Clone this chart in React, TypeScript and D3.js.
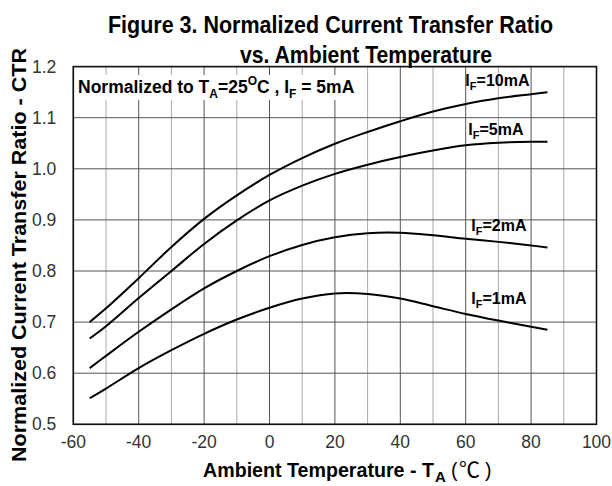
import React from 'react';
import * as d3 from 'd3';

const temps = [-55, -50, -40, -30, -20, -10, 0, 10, 20, 30, 40, 50, 60, 70, 80, 85];
const ctr10mA = [0.7, 0.727, 0.786, 0.847, 0.902, 0.948, 0.988, 1.021, 1.049, 1.072, 1.093, 1.112, 1.127, 1.138, 1.146, 1.15];
const ctr5mA = [0.668, 0.692, 0.747, 0.8, 0.853, 0.899, 0.938, 0.967, 0.99, 1.008, 1.023, 1.036, 1.046, 1.051, 1.053, 1.053];
const ctr2mA = [0.61, 0.634, 0.681, 0.725, 0.766, 0.8, 0.829, 0.851, 0.866, 0.874, 0.875, 0.87, 0.863, 0.857, 0.85, 0.846];
const ctr1mA = [0.551, 0.57, 0.61, 0.645, 0.677, 0.705, 0.728, 0.746, 0.756, 0.755, 0.746, 0.731, 0.716, 0.703, 0.691, 0.685];

const seriesNames = ['10mA', '5mA', '2mA', '1mA'];
const seriesValues = [ctr10mA, ctr5mA, ctr2mA, ctr1mA];
// where each curve label sits, in data units (temperature, ctr)
const labelTemps = [59.9, 60.8, 61.7, 61.7];
const labelCtrs = [1.162, 1.066, 0.878, 0.735];

const xTicks = [-60, -40, -20, 0, 20, 40, 60, 80, 100];
const xMinor = [-50, -30, -10, 10, 30, 50, 70, 90];
const yTicks = [0.5, 0.6, 0.7, 0.8, 0.9, 1.0, 1.1, 1.2];

const width = 612;
const height = 486;
const margins = { l: 73.3, t: 66.6, r: 15.5, b: 61.7 };

const App = () => {
  const x = d3.scaleLinear().domain([-60, 100]).range([margins.l, width - margins.r]);
  const y = d3.scaleLinear().domain([0.5, 1.2]).range([height - margins.b, margins.t]);

  const line = d3
    .line<number>()
    .x((d, i) => x(temps[i]))
    .y(d => y(d))
    .curve(d3.curveCatmullRom.alpha(0.5));

  const font = 'Arial, "Liberation Sans", sans-serif';

  return (
    <svg
      width={width}
      height={height}
      style={{ position: 'absolute', left: 0, top: 0, background: '#fff' }}
      fontFamily={font}
    >
      <text x={108} y={33} fontWeight="bold" fontSize={24} textLength={445} lengthAdjust="spacingAndGlyphs">
        Figure 3. Normalized Current Transfer Ratio
      </text>
      <text x={240} y={63} fontWeight="bold" fontSize={24} textLength={252} lengthAdjust="spacingAndGlyphs">
        vs. Ambient Temperature
      </text>

      {xMinor.map(t => (
        <line key={'xm' + t} x1={x(t)} x2={x(t)} y1={y(0.5)} y2={y(1.2)} stroke="#aaa" strokeWidth={1} />
      ))}
      {xTicks.map(t => (
        <line key={'xg' + t} x1={x(t)} x2={x(t)} y1={y(0.5)} y2={y(1.2)} stroke="#555" strokeWidth={1} />
      ))}
      {yTicks.map(v => (
        <line key={'yg' + v} x1={x(-60)} x2={x(100)} y1={y(v)} y2={y(v)} stroke="#555" strokeWidth={1} />
      ))}

      {seriesValues.map((vals, i) => (
        <path key={seriesNames[i]} d={line(vals) || ''} fill="none" stroke="#000" strokeWidth={2} />
      ))}

      {seriesNames.map((name, i) => (
        <text key={'lb' + name} x={x(labelTemps[i])} y={y(labelCtrs[i])} fontSize={16} fontWeight="bold">
          I
          <tspan fontSize={11} dy={4}>F</tspan>
          <tspan dy={-4}>={name}</tspan>
        </text>
      ))}

      <rect x={x(-60) + 1} y={75} width={286} height={25} fill="#fff" />
      <text x={78} y={93} fontSize={17.5} fontWeight="bold">
        Normalized to T
        <tspan fontSize={12} dy={5}>A</tspan>
        <tspan dy={-5}>=25</tspan>
        <tspan fontSize={12} dy={-8}>O</tspan>
        <tspan dy={8}>C , I</tspan>
        <tspan fontSize={12} dy={5}>F</tspan>
        <tspan dy={-5}> = 5mA</tspan>
      </text>

      <rect
        x={x(-60)}
        y={y(1.2)}
        width={x(100) - x(-60)}
        height={y(0.5) - y(1.2)}
        fill="none"
        stroke="#111"
        strokeWidth={1.6}
      />

      {xTicks.map(t => (
        <text key={'xt' + t} x={x(t)} y={y(0.5) + 24} textAnchor="middle" fontSize={17.5} fill="#333">
          {t}
        </text>
      ))}
      {yTicks.map(v => (
        <text key={'yt' + v} x={x(-60) - 17} y={y(v) + 6} textAnchor="end" fontSize={17.5} fill="#333">
          {d3.format('.1f')(v)}
        </text>
      ))}

      <text x={203} y={477} fontWeight="bold" fontSize={19.5} textLength={231} lengthAdjust="spacingAndGlyphs">
        Ambient Temperature - T
      </text>
      <text x={435} y={482} fontWeight="bold" fontSize={15}>A</text>
      <text x={451} y={477} fontSize={19.5}>(</text>
      <text x={459} y={477} fontSize={21} fontFamily='"Noto Sans CJK SC"'>℃</text>
      <text x={485} y={477} fontSize={19.5}>)</text>

      <text
        transform="translate(26, 255) rotate(-90)"
        textAnchor="middle"
        fontWeight="bold"
        fontSize={20}
        textLength={414}
        lengthAdjust="spacingAndGlyphs"
      >
        Normalized Current Transfer Ratio - CTR
      </text>
    </svg>
  );
};

export default App;
